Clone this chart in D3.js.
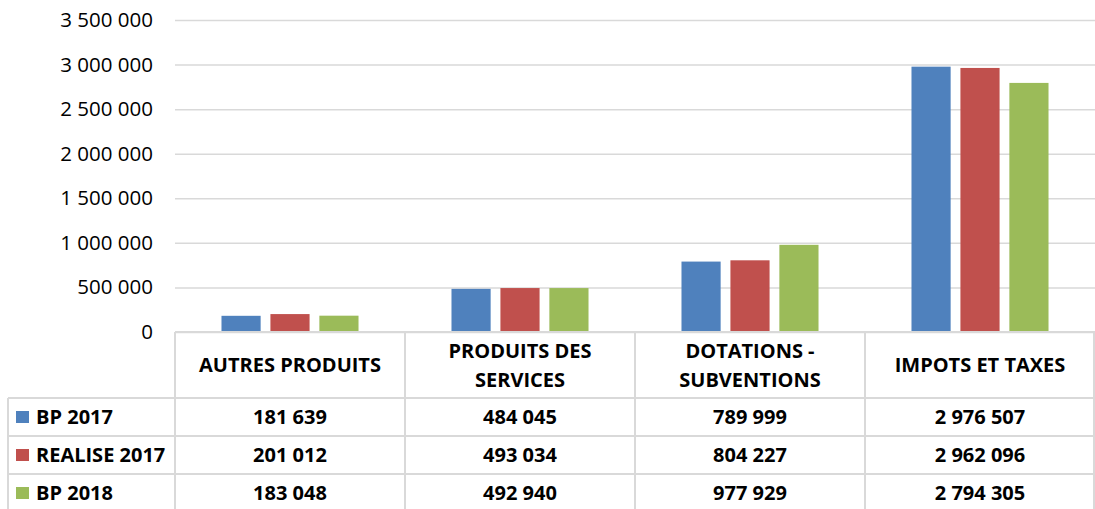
<!DOCTYPE html>
<html>
<head>
<meta charset="utf-8">
<script src="https://cdn.jsdelivr.net/npm/d3@7"></script>
<style>
  body { margin: 0; background: #fff; }
  svg text { font-family: "Open Sans", "Liberation Sans", sans-serif; }
</style>
</head>
<body>
<script>
const w = 1095;
const h = 509;

// data
const categories = [["AUTRES PRODUITS"], ["PRODUITS DES", "SERVICES"], ["DOTATIONS -", "SUBVENTIONS"], ["IMPOTS ET TAXES"]];
const seriesNames = ["BP 2017", "REALISE 2017", "BP 2018"];
const bp2017 = [181639, 484045, 789999, 2976507];
const realise2017 = [201012, 493034, 804227, 2962096];
const bp2018 = [183048, 492940, 977929, 2794305];
const yTicks = [0, 500000, 1000000, 1500000, 2000000, 2500000, 3000000, 3500000];
const colors = ["#4F81BD", "#C0504D", "#9BBB59"];

const series = [bp2017, realise2017, bp2018];

const plotLeft = 175, plotRight = 1095, plotTop = 20, plotBottom = 332;
const gridColor = "#D9D9D9";

const fmt = v => d3.format(",")(v).replace(/,/g, " ");

const svg = d3.select("body").append("svg")
    .attr("width", w)
    .attr("height", h);

const x = d3.scaleBand()
    .domain(d3.range(categories.length))
    .range([plotLeft, plotRight]);

const x1 = d3.scaleBand()
    .domain(d3.range(series.length))
    .range([0, x.bandwidth()])
    .paddingInner(0.2)
    .paddingOuter(0.95);

const y = d3.scaleLinear()
    .domain([0, 3500000])
    .range([plotBottom, plotTop]);

// gridlines + y axis
const yAxis = d3.axisLeft(y)
    .tickValues(yTicks)
    .tickSize(-(plotRight - plotLeft))
    .tickFormat(fmt);

svg.append("g")
    .attr("transform", `translate(${plotLeft},0)`)
    .call(yAxis)
    .call(g => g.select(".domain").remove())
    .call(g => g.selectAll(".tick line").attr("stroke", gridColor).attr("stroke-width", 1.5))
    .call(g => g.selectAll(".tick text")
        .attr("x", -22)
        .attr("fill", "#000")
        .style("font-size", "20.5px"));

// bars
series.forEach((s, si) => {
    svg.append("g").selectAll("rect")
        .data(s)
        .enter()
        .append("rect")
        .attr("x", (d, i) => x(i) + x1(si))
        .attr("width", x1.bandwidth())
        .attr("y", d => y(d))
        .attr("height", d => plotBottom - y(d))
        .attr("fill", colors[si]);
});

// data table
const headerBottom = 398;
const rowH = 38;
const tableLeft = 8;
const lines = svg.append("g").attr("stroke", gridColor).attr("stroke-width", 2);

// horizontal lines
lines.append("line").attr("x1", plotLeft).attr("x2", plotRight).attr("y1", plotBottom).attr("y2", plotBottom);
d3.range(series.length).forEach(r => {
    const yy = headerBottom + r * rowH;
    lines.append("line").attr("x1", tableLeft).attr("x2", plotRight).attr("y1", yy).attr("y2", yy);
});
// vertical lines
lines.append("line").attr("x1", tableLeft).attr("x2", tableLeft).attr("y1", headerBottom).attr("y2", h);
d3.range(categories.length + 1).forEach(i => {
    const xx = i < categories.length ? x(i) : plotRight - 1;
    lines.append("line").attr("x1", xx).attr("x2", xx).attr("y1", plotBottom).attr("y2", h);
});

// header labels
const headers = svg.append("g")
    .style("font-size", "20px")
    .style("font-weight", "bold")
    .attr("text-anchor", "middle");

categories.forEach((c, i) => {
    const cy = (plotBottom + headerBottom) / 2;
    const t = headers.append("text")
        .attr("x", x(i) + x.bandwidth() / 2)
        .attr("y", cy - (c.length - 1) * 14.5 + 7);
    c.forEach((line, li) => {
        t.append("tspan")
            .attr("x", x(i) + x.bandwidth() / 2)
            .attr("dy", li === 0 ? 0 : 29)
            .text(line);
    });
});

// rows
series.forEach((s, si) => {
    const cy = headerBottom + si * rowH + rowH / 2;
    svg.append("rect")
        .attr("x", 16)
        .attr("y", cy - 6)
        .attr("width", 13)
        .attr("height", 12)
        .attr("fill", colors[si]);
    svg.append("text")
        .attr("x", 36)
        .attr("y", cy + 7)
        .style("font-size", "20px")
        .style("font-weight", "bold")
        .text(seriesNames[si]);
    svg.append("g").selectAll("text")
        .data(s)
        .enter()
        .append("text")
        .attr("x", (d, i) => x(i) + x.bandwidth() / 2)
        .attr("y", cy + 7)
        .attr("text-anchor", "middle")
        .style("font-size", "20px")
        .style("font-weight", "bold")
        .text(d => fmt(d));
});
</script>
</body>
</html>
